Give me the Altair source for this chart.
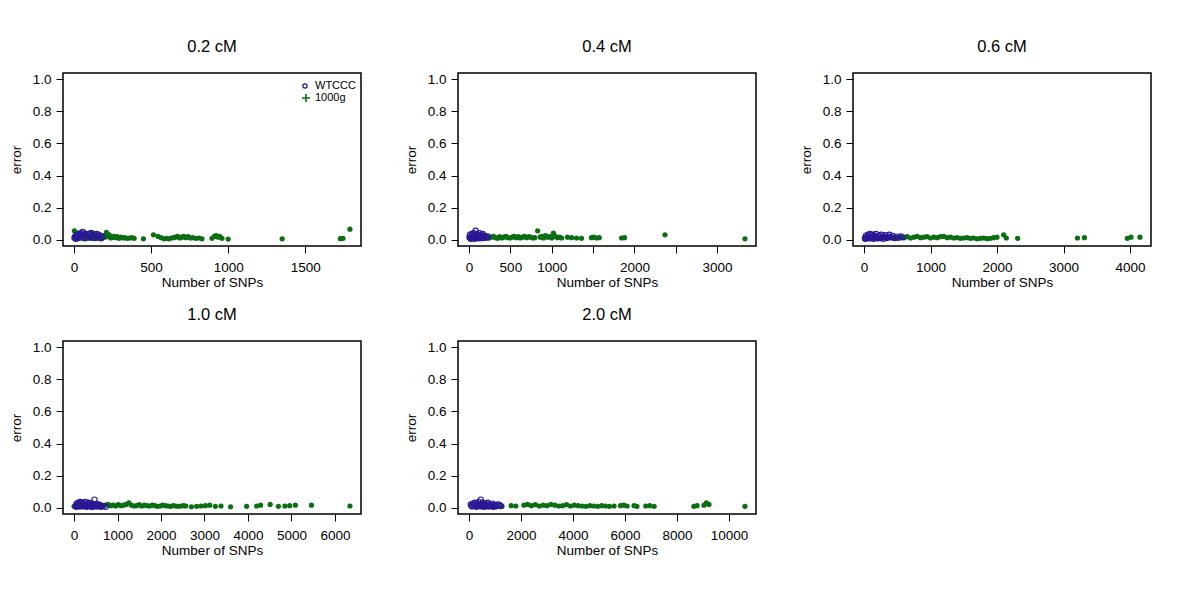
import altair as alt
import pandas as pd

FONT = "Liberation Sans"
NAVY = "#2a1896"
GREEN = "#0b6e12"

# ---------------- data ----------------
# 0.2 cM
p1_wt_x = [3, 8, 12, 15, 20, 24, 28, 32, 36, 40, 45, 50, 55, 60, 65, 70, 75, 80, 88, 95, 100, 108, 115, 122, 130, 138, 145, 152, 160, 168, 175, 182]
p1_wt_y = [0.012, 0.02, 0.005, 0.025, 0.015, 0.03, 0.01, 0.022, 0.035, 0.018, 0.04, 0.028, 0.048, 0.032, 0.02, 0.038, 0.01, 0.03, 0.025, 0.035, 0.015, 0.04, 0.02, 0.03, 0.01, 0.025, 0.035, 0.012, 0.03, 0.02, 0.008, 0.018]
p1_g_x = [2, 5, 10, 14, 18, 22, 27, 33, 38, 44, 50, 57, 63, 70, 78, 85, 92, 100, 108, 116, 124, 132, 140, 150, 160, 170, 180, 190, 200, 210, 218, 228, 238, 248, 258, 268, 280, 292, 305, 318, 330, 345, 360, 375, 390,
          450, 515, 545, 565, 585, 600, 615, 630, 645, 660, 672, 688, 700, 712, 725, 740, 755, 770, 790, 810, 830, 895, 910, 922, 935, 945, 960, 1000, 1350, 1728, 1745, 1790]
p1_g_y = [0.055, 0.01, 0.03, 0.005, 0.02, 0.04, 0.012, 0.025, 0.008, 0.035, 0.015, 0.02, 0.005, 0.028, 0.012, 0.018, 0.01, 0.025, 0.008, 0.045, 0.015, 0.02, 0.01, 0.03, 0.012, 0.018, 0.008, 0.025, 0.015, 0.045, 0.02, 0.03, 0.01, 0.015, 0.02, 0.012, 0.018, 0.008, 0.015, 0.01, 0.012, 0.008, 0.01, 0.012, 0.008,
          0.005, 0.03, 0.02, 0.012, 0.005, 0.008, 0.005, 0.01, 0.012, 0.015, 0.02, 0.01, 0.015, 0.02, 0.012, 0.018, 0.01, 0.012, 0.008, 0.01, 0.005, 0.008, 0.02, 0.025, 0.015, 0.02, 0.008, 0.003, 0.005, 0.006, 0.008, 0.065]

# 0.4 cM
p2_wt_x = [5, 12, 20, 28, 35, 42, 50, 58, 65, 72, 80, 88, 95, 105, 115, 125, 135, 145, 155, 165, 175, 188, 200, 215, 228, 18, 45, 70, 100, 130, 160]
p2_wt_y = [0.015, 0.03, 0.005, 0.02, 0.035, 0.01, 0.025, 0.04, 0.015, 0.03, 0.055, 0.02, 0.035, 0.01, 0.025, 0.04, 0.015, 0.03, 0.02, 0.035, 0.01, 0.025, 0.018, 0.012, 0.02, 0.01, 0.02, 0.005, 0.015, 0.008, 0.012]
p2_g_x = [10, 25, 40, 60, 80, 100, 120, 140, 160, 180, 200, 220, 245, 270, 295, 320, 345, 370, 395, 420, 445, 470, 495, 520, 545, 570, 595, 620, 645, 670, 695, 720, 745, 770, 795, 830, 860, 880, 900, 925, 950, 975, 1000, 1020, 1045, 1070, 1095, 1120, 1190, 1240, 1300, 1360, 1480, 1510, 1545, 1575, 1845, 1880, 2370, 3337]
p2_g_y = [0.01, 0.02, 0.015, 0.008, 0.025, 0.012, 0.018, 0.01, 0.02, 0.015, 0.012, 0.018, 0.01, 0.015, 0.02, 0.012, 0.008, 0.018, 0.01, 0.015, 0.02, 0.012, 0.01, 0.015, 0.02, 0.012, 0.018, 0.01, 0.015, 0.02, 0.012, 0.018, 0.015, 0.01, 0.012, 0.055, 0.015, 0.02, 0.01, 0.025, 0.015, 0.018, 0.01, 0.04, 0.02, 0.012, 0.015, 0.01, 0.015, 0.012, 0.01, 0.008, 0.012, 0.015, 0.01, 0.012, 0.01, 0.012, 0.03, 0.005]

# 0.6 cM
p3_wt_x = [15, 30, 45, 60, 75, 90, 105, 120, 135, 150, 165, 180, 200, 220, 240, 260, 280, 300, 320, 340, 360, 380, 400, 430, 460, 490, 520, 550, 580,
           25, 55, 85, 115, 145, 175, 210, 250, 290, 330]
p3_wt_y = [0.01, 0.025, 0.015, 0.03, 0.02, 0.035, 0.01, 0.025, 0.03, 0.015, 0.02, 0.035, 0.01, 0.025, 0.02, 0.03, 0.015, 0.02, 0.028, 0.01, 0.02, 0.03, 0.015, 0.022, 0.01, 0.018, 0.012, 0.02, 0.015,
           0.005, 0.01, 0.008, 0.015, 0.005, 0.012, 0.008, 0.01, 0.005, 0.012]
p3_g_x = [5, 40, 80, 120, 160, 200, 250, 300, 350, 400, 450, 500, 550, 600, 650, 700, 750, 800, 850, 900, 950, 1000, 1050, 1100, 1150, 1200, 1250, 1300, 1350, 1400, 1450, 1500, 1550, 1600, 1650, 1700, 1750, 1800, 1850, 1900, 1950, 2000, 2100, 2140, 2310, 3210, 3315, 3960, 4015, 4150]
p3_g_y = [0.005, 0.012, 0.008, 0.015, 0.01, 0.012, 0.008, 0.015, 0.01, 0.012, 0.008, 0.01, 0.015, 0.012, 0.018, 0.01, 0.015, 0.02, 0.012, 0.015, 0.018, 0.01, 0.015, 0.012, 0.018, 0.02, 0.012, 0.015, 0.01, 0.012, 0.008, 0.01, 0.012, 0.008, 0.01, 0.005, 0.008, 0.01, 0.006, 0.008, 0.012, 0.015, 0.03, 0.01, 0.008, 0.01, 0.012, 0.008, 0.015, 0.015]

# 1.0 cM
p4_wt_x = [40, 60, 80, 100, 120, 140, 160, 180, 200, 220, 240, 260, 280, 300, 320, 340, 360, 380, 400, 420, 445, 470, 495, 520, 550, 580, 620, 660, 727,
           50, 90, 130, 170, 210, 250, 290, 330, 370, 410, 460, 510, 560, 610]
p4_wt_y = [0.01, 0.025, 0.015, 0.03, 0.02, 0.035, 0.01, 0.025, 0.03, 0.015, 0.02, 0.035, 0.01, 0.025, 0.02, 0.03, 0.015, 0.02, 0.028, 0.01, 0.02, 0.05, 0.015, 0.022, 0.01, 0.018, 0.012, 0.008, 0.005,
           0.005, 0.012, 0.006, 0.018, 0.008, 0.012, 0.005, 0.015, 0.008, 0.004, 0.01, 0.006, 0.012, 0.005]
p4_g_x = [0, 180, 230, 290, 350, 420, 480, 540, 600, 660, 720, 780, 840, 900, 960, 1020, 1080, 1140, 1200, 1260, 1320, 1380, 1440, 1500, 1560, 1620, 1680, 1740, 1800, 1860, 1920, 1980, 2040, 2100, 2160, 2220, 2280, 2340, 2400, 2460, 2520, 2570, 2700, 2820, 2920, 3020, 3120, 3250, 3380, 3600, 3970, 4200, 4290, 4510, 4700, 4850, 4960, 5090, 5460, 6346]
p4_g_y = [0.008, 0.01, 0.015, 0.012, 0.008, 0.015, 0.01, 0.012, 0.018, 0.01, 0.015, 0.02, 0.012, 0.015, 0.01, 0.018, 0.012, 0.015, 0.02, 0.03, 0.015, 0.01, 0.012, 0.018, 0.01, 0.015, 0.012, 0.01, 0.015, 0.012, 0.008, 0.01, 0.015, 0.012, 0.01, 0.008, 0.012, 0.01, 0.008, 0.01, 0.012, 0.01, 0.005, 0.008, 0.01, 0.012, 0.015, 0.008, 0.01, 0.005, 0.008, 0.01, 0.015, 0.02, 0.008, 0.01, 0.012, 0.015, 0.015, 0.01]

# 2.0 cM
p5_wt_x = [65, 100, 140, 180, 220, 260, 300, 340, 380, 420, 450, 480, 520, 560, 600, 640, 680, 720, 760, 800, 850, 900, 950, 1000, 1060, 1120, 1180, 1220,
           120, 200, 280, 360, 440, 500, 580, 660, 740, 820, 920, 1030]
p5_wt_y = [0.02, 0.01, 0.025, 0.015, 0.03, 0.02, 0.01, 0.025, 0.035, 0.015, 0.05, 0.02, 0.03, 0.01, 0.025, 0.015, 0.02, 0.03, 0.012, 0.02, 0.015, 0.025, 0.01, 0.018, 0.012, 0.02, 0.015, 0.01,
           0.008, 0.015, 0.005, 0.012, 0.008, 0.01, 0.005, 0.012, 0.006, 0.01, 0.005, 0.008]
p5_g_x = [960, 1270, 1620, 1800, 2110, 2250, 2400, 2550, 2700, 2850, 3000, 3150, 3300, 3450, 3600, 3750, 3900, 4050, 4200, 4350, 4500, 4650, 4800, 4950, 5100, 5250, 5400, 5580, 5830, 5950, 6080, 6350, 6460, 6800, 6950, 7120, 8650, 8770, 9040, 9130, 9230, 10615]
p5_g_y = [0.005, 0.008, 0.012, 0.01, 0.015, 0.02, 0.012, 0.018, 0.01, 0.015, 0.012, 0.02, 0.015, 0.01, 0.012, 0.018, 0.01, 0.015, 0.012, 0.01, 0.008, 0.012, 0.01, 0.008, 0.012, 0.01, 0.008, 0.01, 0.012, 0.015, 0.01, 0.012, 0.008, 0.01, 0.012, 0.008, 0.008, 0.012, 0.015, 0.03, 0.02, 0.008]

titles = ["0.2 cM", "0.4 cM", "0.6 cM", "1.0 cM", "2.0 cM"]
x_domains = [[-71.6, 1861.6], [-133.5, 3470.5], [-166, 4316], [-254, 6600], [-425, 11040]]
x_ticks = [[0, 500, 1000, 1500], [0, 500, 1000, 1500, 2000, 2500, 3000],
           [0, 1000, 2000, 3000, 4000], [0, 1000, 2000, 3000, 4000, 5000, 6000],
           [0, 2000, 4000, 6000, 8000, 10000]]
x_hidden = [[], [1500, 2500], [], [], []]
y_ticks = [0, 0.2, 0.4, 0.6, 0.8, 1.0]
legend_labels = ["WTCCC", "1000g"]

series = [(p1_wt_x, p1_wt_y, p1_g_x, p1_g_y), (p2_wt_x, p2_wt_y, p2_g_x, p2_g_y),
          (p3_wt_x, p3_wt_y, p3_g_x, p3_g_y), (p4_wt_x, p4_wt_y, p4_g_x, p4_g_y),
          (p5_wt_x, p5_wt_y, p5_g_x, p5_g_y)]

W, H = 298, 173


def panel(i):
    wx, wy, gx, gy = series[i]
    wt = pd.DataFrame({"snps": wx, "error": wy})
    g = pd.DataFrame({"snps": gx, "error": gy})
    hidden = x_hidden[i]
    if hidden:
        expr = " || ".join(f"datum.value == {h}" for h in hidden) + " ? '' : datum.label"
    else:
        expr = "datum.label"
    xenc = alt.X("snps:Q", title="Number of SNPs",
                 scale=alt.Scale(domain=x_domains[i], nice=False, zero=False),
                 axis=alt.Axis(values=x_ticks[i], format="d", labelExpr=expr))
    yenc = alt.Y("error:Q", title="error",
                 scale=alt.Scale(domain=[-0.04, 1.04], nice=False, zero=False),
                 axis=alt.Axis(values=y_ticks, format=".1f"))
    green = alt.Chart(g).mark_circle(color=GREEN, size=27, opacity=1).encode(x=xenc, y=yenc)
    navy = alt.Chart(wt).mark_point(color=NAVY, size=28, filled=False, strokeWidth=1.1, opacity=1).encode(x=xenc, y=yenc)
    layers = [green, navy]
    if i == 0:
        leg = pd.DataFrame({"label": legend_labels})
        c1 = alt.Chart(leg.iloc[[0]]).mark_point(shape="circle", filled=False, color=NAVY, size=18, strokeWidth=1.3, opacity=1).encode(
            x=alt.value(242), y=alt.value(13))
        c2 = alt.Chart(leg.iloc[[1]]).mark_point(shape="M-1,0L1,0M0,-1L0,1", filled=False, color=GREEN, size=64, strokeWidth=1.6, opacity=1).encode(
            x=alt.value(243), y=alt.value(25))
        t1 = alt.Chart(leg.iloc[[0]]).mark_text(align="left", baseline="middle", font=FONT, fontSize=11, color="black").encode(
            x=alt.value(252), y=alt.value(13), text="label:N")
        t2 = alt.Chart(leg.iloc[[1]]).mark_text(align="left", baseline="middle", font=FONT, fontSize=11, color="black").encode(
            x=alt.value(252), y=alt.value(25), text="label:N")
        layers += [c1, c2, t1, t2]
    return alt.layer(*layers).properties(
        width=W, height=H,
        title=alt.TitleParams(titles[i], font=FONT, fontSize=16.5, fontWeight="normal",
                              color="black", anchor="middle", offset=17))


chart = alt.concat(*[panel(i) for i in range(5)], columns=3, spacing={"row": 95, "column": 97},
                   bounds="flush").properties(
    padding={"left": 0, "top": 30, "right": 5, "bottom": 5},
    background="white"
).configure_view(stroke="black", strokeWidth=1.5).configure_axis(
    grid=False, domain=False, ticks=True, tickColor="black", tickSize=7, tickWidth=1,
    labelFont=FONT, labelFontSize=13.5, labelColor="black",
    titleFont=FONT, titleFontSize=13.5, titleFontWeight="normal", titleColor="black"
).configure_axisX(titlePadding=2, labelPadding=7).configure_axisY(
    titlePadding=9, labelPadding=5, labelAngle=0
)

chart.save("out.html", embed_options={"renderer": "svg", "actions": False})
